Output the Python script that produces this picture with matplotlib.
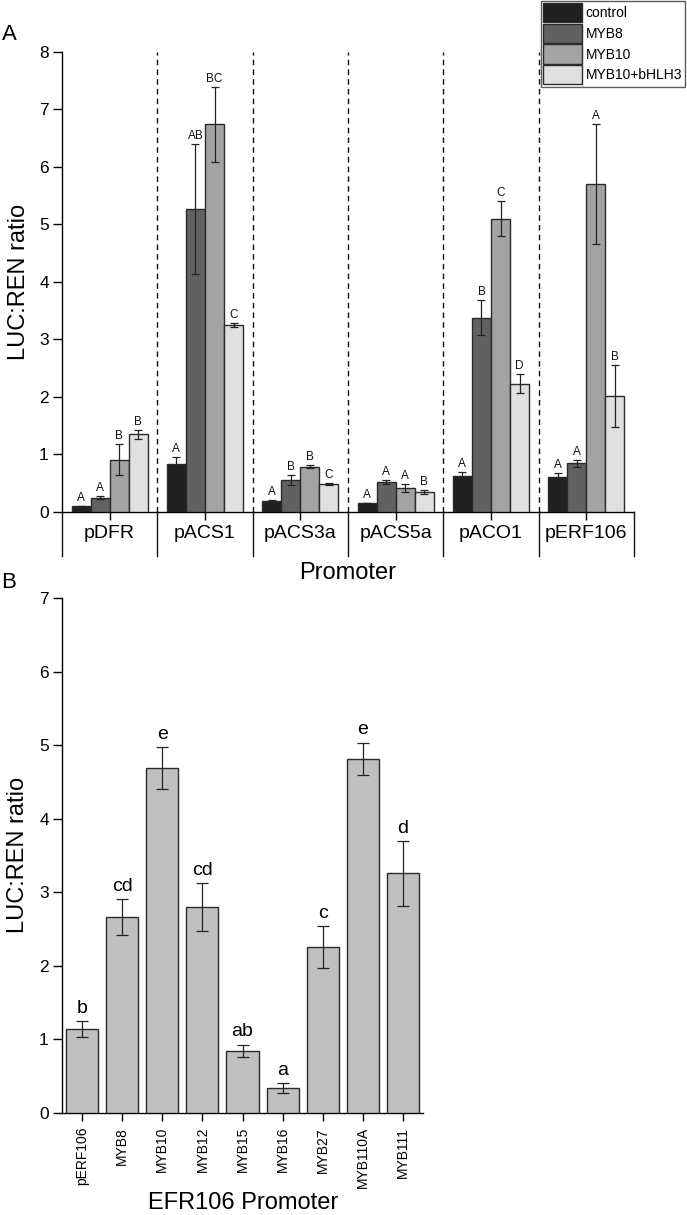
import matplotlib
matplotlib.use("Agg")
import matplotlib.pyplot as plt
import numpy as np

plt.rcParams['font.family'] = ['Liberation Sans', 'DejaVu Sans']

# ---------------- Panel A data ----------------
promoters = ['pDFR', 'pACS1', 'pACS3a', 'pACS5a', 'pACO1', 'pERF106']
series_names = ['control', 'MYB8', 'MYB10', 'MYB10+bHLH3']
control_vals = [0.10, 0.83, 0.19, 0.15, 0.62, 0.61]
control_err = [0.01, 0.13, 0.02, 0.01, 0.08, 0.07]
myb8_vals = [0.25, 5.27, 0.56, 0.52, 3.38, 0.85]
myb8_err = [0.03, 1.13, 0.09, 0.04, 0.31, 0.06]
myb10_vals = [0.91, 6.74, 0.79, 0.41, 5.10, 5.70]
myb10_err = [0.27, 0.65, 0.02, 0.07, 0.30, 1.04]
bhlh_vals = [1.35, 3.25, 0.49, 0.35, 2.23, 2.01]
bhlh_err = [0.08, 0.04, 0.02, 0.03, 0.16, 0.54]
control_letters = ['A', 'A', 'A', 'A', 'A', 'A']
myb8_letters = ['A', 'AB', 'B', 'A', 'B', 'A']
myb10_letters = ['B', 'BC', 'B', 'A', 'C', 'A']
bhlh_letters = ['B', 'C', 'C', 'B', 'D', 'B']

# ---------------- Panel B data ----------------
constructs = ['pERF106', 'MYB8', 'MYB10', 'MYB12', 'MYB15', 'MYB16', 'MYB27', 'MYB110A', 'MYB111']
b_vals = [1.14, 2.66, 4.69, 2.80, 0.845, 0.34, 2.26, 4.815, 3.26]
b_errs = [0.11, 0.245, 0.28, 0.32, 0.085, 0.07, 0.285, 0.22, 0.44]
b_letters = ['b', 'cd', 'e', 'cd', 'ab', 'a', 'c', 'e', 'd']

W, H = 687, 1215
fig = plt.figure(figsize=(W / 100, H / 100), dpi=100)

def fx(px):
    return px / W

def fy(px):
    return 1 - px / H

edge = '#2a2a2a'
colors = ['#202020', '#616161', '#a3a3a3', '#e0e0e0']

# ================= Panel A =================
axA = fig.add_axes([fx(62), fy(512), fx(634) - fx(62), fy(51.7) - fy(512)])
xg = np.arange(len(promoters))
offsets = [-0.3, -0.1, 0.1, 0.3]
vals_all = [control_vals, myb8_vals, myb10_vals, bhlh_vals]
errs_all = [control_err, myb8_err, myb10_err, bhlh_err]
lets_all = [control_letters, myb8_letters, myb10_letters, bhlh_letters]
handles = []
for k in range(4):
    bars = axA.bar(xg + offsets[k], vals_all[k], width=0.2, color=colors[k],
                   edgecolor=edge, linewidth=1.0, label=series_names[k], zorder=3)
    handles.append(bars)
    axA.errorbar(xg + offsets[k], vals_all[k], yerr=errs_all[k], fmt='none',
                 ecolor='#222222', elinewidth=0.9, capsize=3.2, capthick=0.9, zorder=4)
    for i in range(len(promoters)):
        axA.annotate(lets_all[k][i], (xg[i] + offsets[k], vals_all[k][i] + errs_all[k][i]),
                     xytext=(0, 1.5), textcoords='offset points', ha='center', va='bottom',
                     fontsize=8.5, color='#111111')

axA.set_xlim(-0.5, len(promoters) - 0.5)
axA.set_ylim(0, 8)
axA.set_yticks(range(0, 9))
for b in np.arange(0.5, len(promoters) - 0.5, 1.0):
    axA.plot([b, b], [0, 8], color='#111111', lw=1.0, ls=(0, (4, 3)), zorder=1)
for s in ['top', 'right']:
    axA.spines[s].set_visible(False)
for s in ['left', 'bottom']:
    axA.spines[s].set_linewidth(1.0)
axA.set_xticks(xg)
axA.set_xticklabels(promoters, fontsize=14)
axA.tick_params(axis='x', direction='out', length=6, width=1.0, pad=3)
axA.tick_params(axis='y', direction='out', length=6.5, width=1.0, labelsize=12.5, pad=3)
# category separators below the axis
sep_len = 44 / (512 - 51.7)
for b in np.arange(-0.5, len(promoters), 1.0):
    axA.plot([b, b], [0, -sep_len], transform=axA.get_xaxis_transform(),
             color='#111111', lw=1.0, clip_on=False)
fig.text(fx(19), fy(282), 'LUC:REN ratio', ha='center', va='center', rotation=90, fontsize=17)
fig.text(fx(348), fy(573), 'Promoter', ha='center', va='center', fontsize=17)
fig.text(fx(9), fy(35), 'A', ha='center', va='center', fontsize=16)

leg = fig.legend(handles=handles, labels=series_names, loc='upper right',
                 bbox_to_anchor=(fx(685), fy(0.5)), fontsize=10, frameon=True,
                 fancybox=False, handlelength=2.8, handleheight=1.75,
                 labelspacing=0.1, handletextpad=0.25, borderpad=0.2,
                 borderaxespad=0)
leg.get_frame().set_edgecolor('#333333')
leg.get_frame().set_linewidth(1.0)

# ================= Panel B =================
axB = fig.add_axes([fx(62), fy(1113), fx(423) - fx(62), fy(598) - fy(1113)])
xb = np.arange(len(constructs))
axB.bar(xb, b_vals, width=0.8, color='#c0c0c0', edgecolor=edge, linewidth=1.0, zorder=3)
axB.errorbar(xb, b_vals, yerr=b_errs, fmt='none', ecolor='#222222', elinewidth=0.9,
             capsize=4, capthick=0.9, zorder=4)
for i in range(len(constructs)):
    axB.annotate(b_letters[i], (xb[i], b_vals[i] + b_errs[i]), xytext=(0, 3),
                 textcoords='offset points', ha='center', va='bottom', fontsize=14)
axB.set_xlim(-0.5, len(constructs) - 0.5)
axB.set_ylim(0, 7)
axB.set_yticks(range(0, 8))
for s in ['top', 'right']:
    axB.spines[s].set_visible(False)
for s in ['left', 'bottom']:
    axB.spines[s].set_linewidth(1.0)
axB.set_xticks(xb)
axB.set_xticklabels(constructs, rotation=90, fontsize=10)
axB.tick_params(axis='x', direction='out', length=6, width=1.0, pad=4)
axB.tick_params(axis='y', direction='out', length=6.5, width=1.0, labelsize=12.5, pad=3)
fig.text(fx(18), fy(855), 'LUC:REN ratio', ha='center', va='center', rotation=90, fontsize=17)
fig.text(fx(243), fy(1203), 'EFR106 Promoter', ha='center', va='center', fontsize=17)
fig.text(fx(9), fy(583), 'B', ha='center', va='center', fontsize=16)

fig.savefig('out.png', dpi=100)
